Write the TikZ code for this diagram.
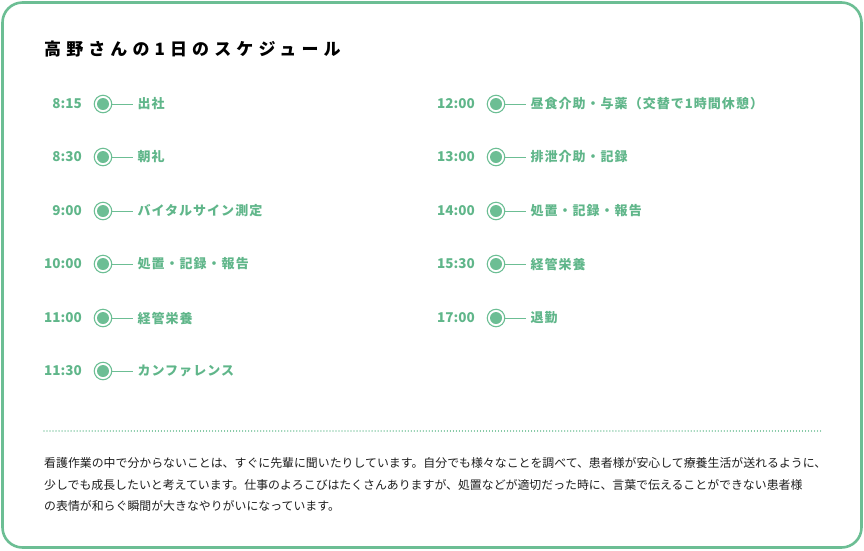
\documentclass[tikz,border=0pt]{standalone}
\usepackage{fontspec}
\setmainfont{Noto Sans CJK JP}
\usetikzlibrary{positioning}
\definecolor{gr}{RGB}{108,190,148}
\definecolor{grt}{RGB}{96,182,138}
\definecolor{txt}{RGB}{30,30,30}
\tikzset{
  timelbl/.style={anchor=east,text=grt,font=\fontsize{13.5}{14}\selectfont\bfseries,inner sep=0pt},
  itemlbl/.style={anchor=west,text=grt,font=\fontsize{13}{14}\selectfont\bfseries\addfontfeatures{LetterSpace=8},inner sep=0pt},
  dotring/.style={circle,draw=gr,line width=1.1pt,minimum size=17.5pt,inner sep=0pt},
  dotfill/.style={circle,fill=gr,minimum size=12pt,inner sep=0pt},
  tick/.style={draw=gr,line width=1pt},
  para/.style={anchor=west,text=txt,font=\fontsize{11.9}{13}\selectfont,inner sep=0pt}
}
\newcommand{\slot}[5]{%
  \node[timelbl] (t#1) at (#2,#3) {#4};
  \node[dotring] (r#1) at ([xshift=21pt]t#1.east) {};
  \node[dotfill] (f#1) at (r#1.center) {};
  \coordinate (e#1) at ([xshift=21pt]r#1.east);
  \draw[tick] (r#1.east) -- (e#1);
  \node[itemlbl] (i#1) at ([xshift=4pt]e#1) {#5};
}
\begin{document}
\begin{tikzpicture}[x=1pt,y=-1pt]
\useasboundingbox (0,0) rectangle (864,550);
\draw[gr,line width=2.6pt,rounded corners=20pt] (2.5,2.5) rectangle (861.5,547.5);
\node[anchor=west,inner sep=0pt,text=black,font=\fontsize{17}{18}\selectfont\bfseries\addfontfeatures{LetterSpace=30}] (title) at (44,49) {高野さんの1日のスケジュール};
\slot{a}{82}{104}{8:15}{出社}
\slot{b}{82}{157}{8:30}{朝礼}
\slot{c}{82}{211}{9:00}{バイタルサイン測定}
\slot{d}{82}{264}{10:00}{処置・記録・報告}
\slot{e}{82}{318}{11:00}{経管栄養}
\slot{f}{82}{371}{11:30}{カンファレンス}
\slot{g}{475}{104}{12:00}{昼食介助・与薬（交替で1時間休憩）}
\slot{h}{475}{157}{13:00}{排泄介助・記録}
\slot{i}{475}{211}{14:00}{処置・記録・報告}
\slot{j}{475}{264}{15:30}{経管栄養}
\slot{k}{475}{318}{17:00}{退勤}
\coordinate (dl) at (44,431);
\coordinate (dr) at (822,431);
\draw[gr,line width=1.2pt,dash pattern=on 0.01pt off 3pt,line cap=round] (dl) -- (dr);
\node[para] (p1) at (44,463) {看護作業の中で分からないことは、すぐに先輩に聞いたりしています。自分でも様々なことを調べて、患者様が安心して療養生活が送れるように、};
\node[para] (p2) at (44,485) {少しでも成長したいと考えています。仕事のよろこびはたくさんありますが、処置などが適切だった時に、言葉で伝えることができない患者様};
\node[para] (p3) at (44,506) {の表情が和らぐ瞬間が大きなやりがいになっています。};
\end{tikzpicture}
\end{document}
